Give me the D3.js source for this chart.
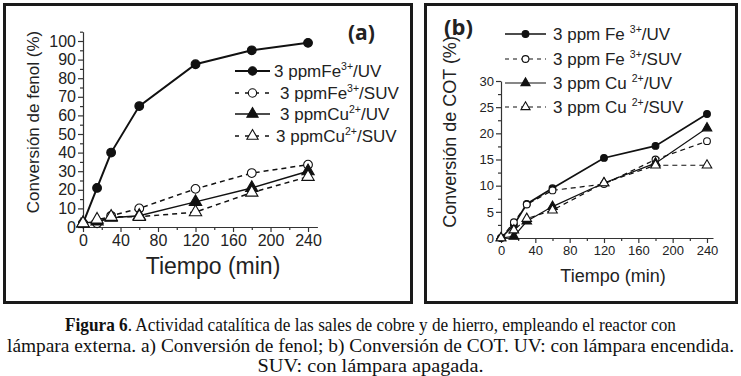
<!doctype html>
<html>
<head>
<meta charset="utf-8">
<style>
    body { margin: 0; background: #fff; }
    svg { display: block; }
    text { font-family: Arial, 'Liberation Sans', sans-serif; fill: #222; }
    .frame { fill: none; stroke: #1a1a1a; stroke-width: 3; }
    .axis path, .axis line { stroke: #333; stroke-width: 1.2; }
    .axis text { fill: #222; font-family: Arial, 'Liberation Sans', sans-serif; }
    .caption { font-family: 'Liberation Serif', 'Times New Roman', serif; font-size: 19px; fill: #111; }
</style>
<script src="https://d3js.org/d3.v7.min.js"></script>
</head>
<body>
<svg width="741" height="376"></svg>
<script>
// data
const times = [0, 15, 30, 60, 120, 180, 240];
const seriesNames = ['Fe3+/UV', 'Fe3+/SUV', 'Cu2+/UV', 'Cu2+/SUV'];
const legendIons = ['Fe', 'Fe', 'Cu', 'Cu'];
const legendCharges = ['3+', '3+', '2+', '2+'];
const legendLamp = ['/UV', '/SUV', '/UV', '/SUV'];

// (a) phenol conversion (%)
const fenolFeUV = [2, 21, 40, 65, 87.5, 95, 99];
const fenolFeSUV = [2, 2, 6, 10, 20.5, 29, 33.5];
const fenolCuUV = [2, 3, 5, 6, 13.5, 21, 30];
const fenolCuSUV = [2, 4, 5.5, 5.5, 8, 18.5, 27];

// (b) TOC conversion (%)
const cotFeUV = [0, 2.5, 6.5, 9.5, 15.3, 17.6, 23.7];
const cotFeSUV = [0, 3, 6.4, 9.1, 10.3, 15, 18.5];
const cotCuUV = [0, 0.3, 3.2, 6, 10.5, 14.3, 21];
const cotCuSUV = [0, 1.5, 3.7, 5.3, 10.5, 13.9, 13.9];

const xTicks = [0, 40, 80, 120, 160, 200, 240];
const yTicksA = [0, 10, 20, 30, 40, 50, 60, 70, 80, 90, 100];
const yTicksB = [0, 5, 10, 15, 20, 25, 30];

const captionLines = [
    ['Figura 6', '. Actividad catalítica de las sales de cobre y de hierro, empleando el reactor con'],
    ['', 'lámpara externa. a) Conversión de fenol; b) Conversión de COT. UV: con lámpara encendida.'],
    ['', 'SUV: con lámpara apagada.']
];
const captionWidths = [611, 727, 226];

const svg = d3.select('svg');

// marker / line style per series
const filled = [true, false, true, false];
const shape = [d3.symbolCircle, d3.symbolCircle, d3.symbolTriangle, d3.symbolTriangle];
const dashed = [false, true, false, true];

function drawPanel(cfg) {
    const g = svg.append('g');

    g.append('rect').attr('class', 'frame')
        .attr('x', cfg.frame[0]).attr('y', cfg.frame[1])
        .attr('width', cfg.frame[2]).attr('height', cfg.frame[3]);

    const x = d3.scaleLinear().domain(cfg.xDomain).range(cfg.xRange);
    const y = d3.scaleLinear().domain(cfg.yDomain).range(cfg.yRange);

    // minor ticks
    const xMinor = d3.range(cfg.xDomain[0], cfg.xDomain[1], 20).filter(v => v % 40 !== 0);
    g.append('g').attr('class', 'axis')
        .attr('transform', `translate(0,${cfg.yRange[0]})`)
        .call(d3.axisBottom(x).tickValues(xMinor).tickSize(3).tickFormat(''))
        .call(s => s.select('.domain').remove());
    const yMinor = d3.range(cfg.yDomain[0], cfg.yDomain[1] + 0.01, cfg.yMinorStep)
        .filter(v => !cfg.yTicks.includes(v));
    g.append('g').attr('class', 'axis')
        .attr('transform', `translate(${cfg.xRange[0]},0)`)
        .call(d3.axisLeft(y).tickValues(yMinor).tickSize(3).tickFormat(''))
        .call(s => s.select('.domain').remove());

    const xAxis = g.append('g').attr('class', 'axis')
        .attr('transform', `translate(0,${cfg.yRange[0]})`)
        .call(d3.axisBottom(x).tickValues(xTicks).tickSize(5).tickSizeOuter(0).tickPadding(3));
    xAxis.selectAll('text').style('font-size', cfg.tickFont + 'px');

    const yAxis = g.append('g').attr('class', 'axis')
        .attr('transform', `translate(${cfg.xRange[0]},0)`)
        .call(d3.axisLeft(y).tickValues(cfg.yTicks).tickSize(5).tickSizeOuter(0).tickPadding(2));
    yAxis.selectAll('text').style('font-size', cfg.tickFont + 'px');

    // axis titles
    g.append('text')
        .attr('x', cfg.xTitle[0]).attr('y', cfg.xTitle[1])
        .attr('text-anchor', 'middle')
        .style('font-size', cfg.xTitleFont + 'px')
        .text('Tiempo (min)');
    g.append('text')
        .attr('transform', `translate(${cfg.yTitle[0]},${cfg.yTitle[1]}) rotate(-90)`)
        .attr('text-anchor', 'middle')
        .style('font-size', cfg.yTitleFont + 'px')
        .text(cfg.yLabel);

    // panel tag
    g.append('text')
        .attr('x', cfg.tag[0]).attr('y', cfg.tag[1])
        .style('font-size', cfg.tagFont + 'px')
        .style('font-weight', 'bold')
        .style('font-family', "'Open Sans', 'DejaVu Sans', sans-serif")
        .text(cfg.tagText);

    const line = d3.line().x((d, i) => x(times[i])).y(d => y(d));

    cfg.series.forEach((vals, k) => {
        g.append('path')
            .datum(vals)
            .attr('d', line)
            .attr('fill', 'none')
            .attr('stroke', '#111')
            .attr('stroke-width', k === 0 ? cfg.lw + 0.5 : cfg.lw)
            .attr('stroke-dasharray', dashed[k] ? '5,4' : null);
    });
    cfg.series.forEach((vals, k) => {
        g.selectAll(null)
            .data(vals)
            .enter().append('path')
            .attr('transform', (d, i) => `translate(${x(times[i])},${y(d)})`)
            .attr('d', d3.symbol().type(shape[k]).size(shape[k] === d3.symbolCircle ? cfg.ms : cfg.ms * 1.1))
            .attr('fill', filled[k] ? '#111' : '#fff')
            .attr('stroke', '#111')
            .attr('stroke-width', 1.1);
    });

    // legend
    seriesNames.forEach((nm, k) => {
        const ly = cfg.legendY[k];
        const lg = g.append('g');
        lg.append('line')
            .attr('x1', cfg.legendLine[0]).attr('x2', cfg.legendLine[1])
            .attr('y1', ly).attr('y2', ly)
            .attr('stroke', '#111')
            .attr('stroke-width', k === 0 ? cfg.lw + 0.5 : cfg.lw)
            .attr('stroke-dasharray', dashed[k] ? cfg.legendDash : null);
        const mx = (cfg.legendLine[0] + cfg.legendLine[1]) / 2;
        lg.append('path')
            .attr('transform', `translate(${mx},${ly})`)
            .attr('d', d3.symbol().type(shape[k]).size(cfg.legendMs))
            .attr('fill', filled[k] ? '#111' : '#fff')
            .attr('stroke', '#111')
            .attr('stroke-width', 1.1);
        const t = lg.append('text')
            .attr('x', cfg.legendTextX[k]).attr('y', ly + cfg.legendFont * 0.36)
            .style('font-size', cfg.legendFont + 'px');
        t.append('tspan').text('3 ppm' + cfg.legendGap + legendIons[k]);
        t.append('tspan')
            .attr('dx', cfg.supGap)
            .attr('dy', -cfg.legendFont * 0.4)
            .style('font-size', (cfg.legendFont * 0.62) + 'px')
            .text(legendCharges[k]);
        t.append('tspan')
            .attr('dy', cfg.legendFont * 0.4)
            .text(legendLamp[k]);
    });
}

drawPanel({
    frame: [4.5, 4.5, 407, 298],
    xDomain: [0, 250], xRange: [83, 317.4],
    yDomain: [0, 105], yRange: [227, 31.7],
    yTicks: yTicksA, yMinorStep: 5,
    tickFont: 16,
    xTitle: [213, 274], xTitleFont: 23,
    yTitle: [39, 122], yTitleFont: 17, yLabel: 'Conversión de fenol (%)',
    tag: [348, 40], tagText: '(a)', tagFont: 21,
    series: [fenolFeUV, fenolFeSUV, fenolCuUV, fenolCuSUV],
    lw: 1.5, ms: 60,
    legendY: [71, 93, 114, 136],
    legendLine: [235, 270], legendDash: '4,6', legendMs: 55,
    legendTextX: [274, 280, 280, 276],
    legendFont: 17, legendGap: '', supGap: 0
});

drawPanel({
    frame: [425.5, 4.5, 311, 298],
    xDomain: [0, 247], xRange: [501, 713],
    yDomain: [0, 30], yRange: [238, 81],
    yTicks: yTicksB, yMinorStep: 2.5,
    tickFont: 13,
    xTitle: [613, 282], xTitleFont: 18,
    yTitle: [456, 132], yTitleFont: 18, yLabel: 'Conversión de COT (%)',
    tag: [444, 35], tagText: '(b)', tagFont: 22,
    series: [cotFeUV, cotFeSUV, cotCuUV, cotCuSUV],
    lw: 1.2, ms: 36,
    legendY: [34, 59, 83, 107],
    legendLine: [505, 546], legendDash: '4,4', legendMs: 36,
    legendTextX: [553, 553, 553, 553],
    legendFont: 17, legendGap: ' ', supGap: 5
});

// caption
captionLines.forEach((ln, i) => {
    const t = svg.append('text')
        .attr('class', 'caption')
        .attr('x', 370.5).attr('y', 331 + i * 20.5)
        .attr('text-anchor', 'middle')
        .attr('textLength', captionWidths[i])
        .attr('lengthAdjust', 'spacingAndGlyphs');
    if (ln[0]) t.append('tspan').style('font-weight', 'bold').text(ln[0]);
    t.append('tspan').text(ln[1]);
});
</script>
</body>
</html>
